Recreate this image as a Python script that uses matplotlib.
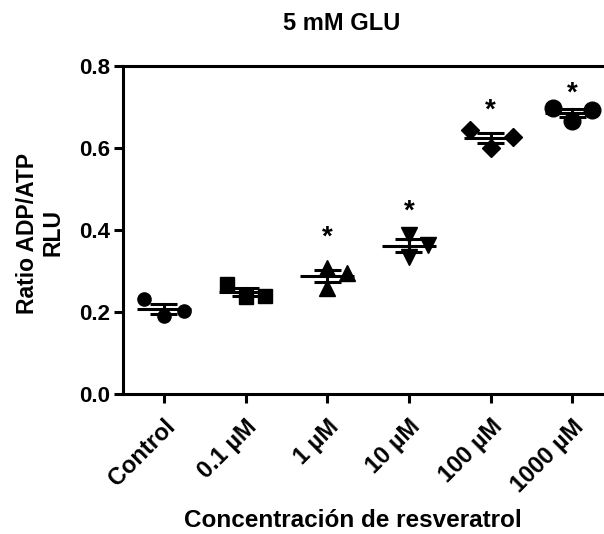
import numpy as np
import matplotlib
matplotlib.use('Agg')
import matplotlib.pyplot as plt

plt.rcParams['font.family'] = ['Liberation Sans', 'DejaVu Sans']
plt.rcParams['font.weight'] = 'bold'

groups = ['Control', '0.1 µM', '1 µM', '10 µM', '100 µM', '1000 µM']
values = [
    [0.230, 0.188, 0.202],
    [0.267, 0.236, 0.238],
    [0.306, 0.258, 0.294],
    [0.387, 0.332, 0.363],
    [0.643, 0.600, 0.627],
    [0.696, 0.664, 0.692],
]
star_groups = [2, 3, 4, 5]
star_y = [0.391, 0.455, 0.700, 0.743]

# horizontal scatter of the replicates (layout only)
offsets = [
    [-0.24, 0.0, 0.25],
    [-0.23, 0.0, 0.24],
    [0.0, 0.0, 0.24],
    [0.0, 0.0, 0.24],
    [-0.25, 0.0, 0.27],
    [-0.23, 0.0, 0.24],
]
markers = ['o', 's', '^', 'v', 'D', 'o']
msizes = [9.5, 9.5, 11, 11, 9.5, 12]

fig = plt.figure(figsize=(6.04, 5.34), dpi=100)
ax = fig.add_axes([123/604, 1 - 393.5/534, 490/604, 327.8/534])

lw = 2.2
for i, vals in enumerate(values):
    vals = np.array(vals)
    m = vals.mean()
    sem = vals.std(ddof=1) / np.sqrt(len(vals))
    ax.plot([i - 0.33, i + 0.33], [m, m], color='k', lw=lw, solid_capstyle='butt')
    ax.plot([i - 0.165, i + 0.165], [m + sem, m + sem], color='k', lw=lw, solid_capstyle='butt')
    ax.plot([i - 0.165, i + 0.165], [m - sem, m - sem], color='k', lw=lw, solid_capstyle='butt')
    ax.plot([i, i], [m - sem, m + sem], color='k', lw=lw)
    xs = [i + o for o in offsets[i]]
    ax.plot(xs, vals, linestyle='none', marker=markers[i], ms=msizes[i],
            color='k', clip_on=False, zorder=3)

for g, y in zip(star_groups, star_y):
    ax.annotate('*', xy=(g, y), xytext=(0, -8), textcoords='offset points',
                ha='center', va='baseline', fontsize=20, fontweight='bold')

ax.set_xlim(-0.5, 5.5)
ax.set_ylim(0, 0.8)
ax.set_yticks([0.0, 0.2, 0.4, 0.6, 0.8])
ax.set_yticklabels(['0.0', '0.2', '0.4', '0.6', '0.8'])
ax.set_xticks(range(len(groups)))
ax.set_xticklabels(groups, rotation=45, ha='right', va='top', rotation_mode='anchor')

for s in ['left', 'bottom', 'top']:
    ax.spines[s].set_linewidth(lw)
ax.spines['right'].set_visible(False)
ax.tick_params(width=lw, length=6.5)
ax.tick_params(axis='y', pad=3, labelsize=16)
ax.tick_params(axis='x', pad=9, labelsize=17)
for lab in ax.get_xticklabels() + ax.get_yticklabels():
    lab.set_fontweight('bold')

ax.set_title('5 mM GLU', fontsize=17, fontweight='bold', pad=26, x=(342 - 123)/490)
ax.set_xlabel('Concentración de resveratrol', fontsize=17.5, fontweight='bold')
ax.xaxis.set_label_coords((353 - 123)/490, -(509 - 393.5)/327.8)
ax.set_ylabel('Ratio ADP/ATP\nRLU', fontsize=16.5, fontweight='bold', linespacing=1.1)
ax.yaxis.set_label_coords(-(123 - 64)/490, (393.5 - 233)/327.8)

fig.savefig('out.png', dpi=100)
